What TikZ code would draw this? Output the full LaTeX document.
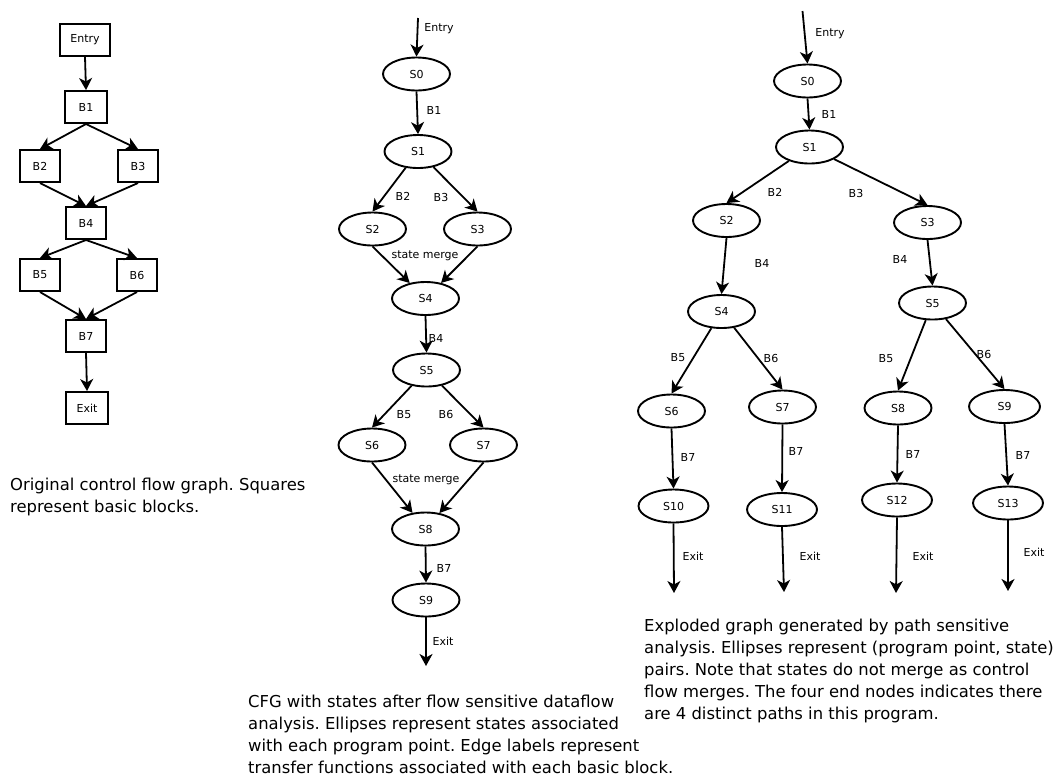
\documentclass[tikz,border=0pt]{standalone}
\usepackage{fontspec}
\setmainfont{DejaVu Sans}
\usetikzlibrary{arrows.meta,shapes.geometric}
\frenchspacing

\begin{document}
\begin{tikzpicture}[x=1pt,y=-1pt,
  blk/.style={draw,line width=2pt,minimum width=40pt,minimum height=32pt,inner sep=0pt,font=\fontsize{11}{13}\selectfont},
  st/.style={draw,ellipse,line width=1.9pt,minimum width=67pt,minimum height=33pt,inner sep=0pt,font=\fontsize{11}{13}\selectfont},
  lbl/.style={inner sep=0pt,font=\fontsize{11}{13}\selectfont},
  arr/.style={-{Stealth[length=12pt,width=13pt,inset=3.5pt]},line width=1.8pt},
  captext/.style={anchor=north west,align=left,inner sep=0pt,font=\fontsize{16.4}{22}\selectfont}]
\useasboundingbox (0,0) rectangle (1059,780);

% original control flow graph
\node[blk,minimum width=50pt] (entry) at (85,40) {Entry};
\node[blk,minimum width=42pt] (b1) at (86,107) {B1};
\node[blk] (b2) at (40,166) {B2};
\node[blk] (b3) at (138,166) {B3};
\node[blk] (b4) at (86,223) {B4};
\node[blk] (b5) at (40,275) {B5};
\node[blk] (b6) at (137,275) {B6};
\node[blk] (b7) at (86,336) {B7};
\node[blk,minimum width=42pt] (exit) at (87,408) {Exit};
\draw [arr] (entry.south) -- (b1.north);
\draw [arr] (b1.south) -- (b2.north);
\draw [arr] (b1.south) -- (b3.north);
\draw [arr] (b2.south) -- (b4.north);
\draw [arr] (b3.south) -- (b4.north);
\draw [arr] (b4.south) -- (b5.north);
\draw [arr] (b4.south) -- (b6.north);
\draw [arr] (b5.south) -- (b7.north);
\draw [arr] (b6.south) -- (b7.north);
\draw [arr] (b7.south) -- (exit.north);
\node[captext] (capl) at (10,477.5) {Original control flow graph. Squares\\represent basic blocks.};

% flow sensitive
\coordinate (min) at (418,18);
\coordinate (mout) at (426,666);
\node[st] (s0) at (416.5,74) {S0};
\node[st] (s1) at (418,151.5) {S1};
\node[st] (s2) at (372.5,229) {S2};
\node[st] (s3) at (477.5,229) {S3};
\node[st] (s4) at (425.5,298.5) {S4};
\node[st] (s5) at (426.5,370) {S5};
\node[st] (s6) at (372,445) {S6};
\node[st] (s7) at (483.5,445) {S7};
\node[st] (s8) at (425.5,529) {S8};
\node[st] (s9) at (426,600) {S9};
\draw [arr] (min) -- (s0.north);
\draw [arr] (s0.south) -- (s1.north);
\draw [arr] (s1) -- (s2.north);
\draw [arr] (s1) -- (s3.north);
\draw [arr] (s2.south) -- (s4);
\draw [arr] (s3.south) -- (s4);
\draw [arr] (s4.south) -- (s5.north);
\draw [arr] (s5) -- (s6.north);
\draw [arr] (s5) -- (s7.north);
\draw [arr] (s6.south) -- (s8);
\draw [arr] (s7.south) -- (s8);
\draw [arr] (s8.south) -- (s9.north);
\draw [arr] (s9.south) -- (mout);
\node[lbl] (mentry) at (439,29) {Entry};
\node[lbl] (mb1) at (434,110) {B1};
\node[lbl] (mb2) at (403,196) {B2};
\node[lbl] (mb3) at (441,197) {B3};
\node[lbl] (mmerge1) at (425,256) {state merge};
\node[lbl] (mb4) at (436,338) {B4};
\node[lbl] (mb5) at (404,415) {B5};
\node[lbl] (mb6) at (446,414) {B6};
\node[lbl] (mmerge2) at (426,480) {state merge};
\node[lbl] (mb7) at (444,568) {B7};
\node[lbl] (mexit) at (443,641) {Exit};
\node[captext] (capm) at (248,694.5) {CFG with states after flow sensitive dataflow\\analysis. Ellipses represent states associated\\with each program point. Edge labels represent\\transfer functions associated with each basic block.};

% path sensitive
\coordinate (rin) at (802.5,11);
\node[st] (r0) at (807.5,81) {S0};
\node[st] (r1) at (809.5,147) {S1};
\node[st] (r2) at (726.5,220.5) {S2};
\node[st] (r3) at (927.5,222.5) {S3};
\node[st] (r4) at (721.5,311.5) {S4};
\node[st] (r5) at (932.5,303) {S5};
\node[st] (r6) at (671.5,411) {S6};
\node[st] (r7) at (782.5,407) {S7};
\node[st] (r8) at (898,408) {S8};
\node[st,minimum width=71pt] (r9) at (1004.5,406.5) {S9};
\node[st,minimum width=70pt] (r10) at (673.5,506) {S10};
\node[st,minimum width=70pt] (r11) at (782,509.5) {S11};
\node[st,minimum width=70pt] (r12) at (897,500) {S12};
\node[st,minimum width=70pt] (r13) at (1008,503) {S13};
\coordinate (rout10) at (674,593);
\coordinate (rout11) at (784,592);
\coordinate (rout12) at (896,593);
\coordinate (rout13) at (1008,591);
\draw [arr] (rin) -- (r0.north);
\draw [arr] (r0.south) -- (r1.north);
\draw [arr] (r1) -- (r2.north);
\draw [arr] (r1) -- (r3.north);
\draw [arr] (r2.south) -- (r4.north);
\draw [arr] (r3.south) -- (r5.north);
\draw [arr] (r4) -- (r6.north);
\draw [arr] (r4) -- (r7.north);
\draw [arr] (r5) -- (r8.north);
\draw [arr] (r5) -- (r9.north);
\draw [arr] (r6.south) -- (r10.north);
\draw [arr] (r7.south) -- (r11.north);
\draw [arr] (r8.south) -- (r12.north);
\draw [arr] (r9.south) -- (r13.north);
\draw [arr] (r10.south) -- (rout10);
\draw [arr] (r11.south) -- (rout11);
\draw [arr] (r12.south) -- (rout12);
\draw [arr] (r13.south) -- (rout13);
\node[lbl] (rentry) at (830,34) {Entry};
\node[lbl] (rb1) at (829,114) {B1};
\node[lbl] (rb2) at (775,192) {B2};
\node[lbl] (rb3) at (856,193) {B3};
\node[lbl] (rb4a) at (762,263) {B4};
\node[lbl] (rb4b) at (900,259) {B4};
\node[lbl] (rb5a) at (678,358) {B5};
\node[lbl] (rb6a) at (771,358) {B6};
\node[lbl] (rb5b) at (886,359) {B5};
\node[lbl] (rb6b) at (984,354) {B6};
\node[lbl] (rb7a) at (688,457) {B7};
\node[lbl] (rb7b) at (796,451) {B7};
\node[lbl] (rb7c) at (913,454) {B7};
\node[lbl] (rb7d) at (1023,455) {B7};
\node[lbl] (rexita) at (693,556) {Exit};
\node[lbl] (rexitb) at (810,556) {Exit};
\node[lbl] (rexitc) at (923,556) {Exit};
\node[lbl] (rexitd) at (1034,552) {Exit};
\node[captext] (capr) at (644,618.5) {Exploded graph generated by path sensitive\\analysis. Ellipses represent (program point, state)\\pairs. Note that states do not merge as control\\flow merges. The four end nodes indicates there\\are 4 distinct paths in this program.};
\end{tikzpicture}
\end{document}
